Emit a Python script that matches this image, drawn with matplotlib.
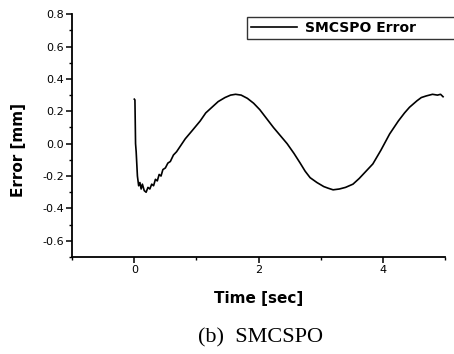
import matplotlib
matplotlib.use("Agg")
import matplotlib.pyplot as plt
from matplotlib.ticker import MultipleLocator

# values
time_s = [0.00, 0.01, 0.02, 0.03, 0.05, 0.07, 0.09, 0.11, 0.13, 0.16, 0.19, 0.22,
          0.25, 0.28, 0.31, 0.34, 0.37, 0.40, 0.43, 0.46, 0.50, 0.54, 0.58, 0.63,
          0.68, 0.75, 0.82, 0.93, 1.06, 1.15, 1.25, 1.35, 1.46, 1.55, 1.63, 1.72,
          1.82, 1.92, 2.02, 2.12, 2.24, 2.35, 2.46, 2.57, 2.67, 2.75, 2.83, 2.94,
          3.05, 3.12, 3.20, 3.30, 3.40, 3.52, 3.62, 3.73, 3.84, 3.97, 4.11, 4.25,
          4.35, 4.43, 4.55, 4.62, 4.70, 4.80, 4.88, 4.93, 4.97]
error_mm = [0.275, 0.27, 0.0, -0.05, -0.20, -0.26, -0.24, -0.28, -0.25, -0.29, -0.30, -0.27,
            -0.28, -0.25, -0.26, -0.22, -0.23, -0.19, -0.20, -0.16, -0.15, -0.12, -0.11, -0.07,
            -0.05, -0.01, 0.03, 0.08, 0.14, 0.19, 0.225, 0.26, 0.285, 0.30, 0.305, 0.30,
            0.28, 0.25, 0.21, 0.16, 0.10, 0.05, 0.0, -0.06, -0.12, -0.17, -0.21, -0.24,
            -0.265, -0.275, -0.285, -0.28, -0.27, -0.25, -0.215, -0.17, -0.125, -0.04, 0.06, 0.14,
            0.19, 0.225, 0.265, 0.285, 0.295, 0.305, 0.30, 0.305, 0.29]

x_ticks = [0, 2, 4]
y_ticks = [-0.6, -0.4, -0.2, 0.0, 0.2, 0.4, 0.6, 0.8]

plt.rcParams['font.family'] = ['DejaVu Sans']

fig = plt.figure(figsize=(4.54, 3.54), dpi=100)
ax = fig.add_axes([0.159, 0.274, 0.821, 0.686])

ax.plot(time_s, error_mm, color='black', lw=1.2, label='SMCSPO Error')

ax.set_xlim(-1, 5)
ax.set_ylim(-0.7, 0.8)
ax.set_xticks(x_ticks)
ax.set_yticks(y_ticks)
ax.set_yticklabels(['%.1f' % v for v in y_ticks])
ax.xaxis.set_minor_locator(MultipleLocator(1))
ax.yaxis.set_minor_locator(MultipleLocator(0.1))
ax.spines['top'].set_visible(False)
ax.spines['right'].set_visible(False)
for s in ('left', 'bottom'):
    ax.spines[s].set_linewidth(1.3)
ax.tick_params(which='major', direction='out', length=4, width=1.1, labelsize=8, pad=2)
ax.tick_params(which='minor', direction='out', length=2.5, width=1.0)

ax.set_xlabel('Time [sec]', fontsize=11, fontweight='bold', labelpad=11)
ax.set_ylabel('Error [mm]', fontsize=11, fontweight='bold', labelpad=6)
ax.yaxis.set_label_coords(-0.125, 0.44)

leg = ax.legend(loc='upper left', bbox_to_anchor=(247 / 454, 1 - 42 / 354, 210 / 454, 25 / 354),
                bbox_transform=fig.transFigure, mode='expand', frameon=True, fancybox=False,
                edgecolor='black', prop={'weight': 'bold', 'size': 10},
                handlelength=3.3, borderpad=0.3, handletextpad=0.6, borderaxespad=0)
leg.get_frame().set_linewidth(1.0)

fig.text(260 / 454, 1 - 338 / 354, '(b)  SMCSPO', ha='center', va='center',
         fontsize=16, family='Liberation Serif')

fig.savefig('out.png', dpi=100)
